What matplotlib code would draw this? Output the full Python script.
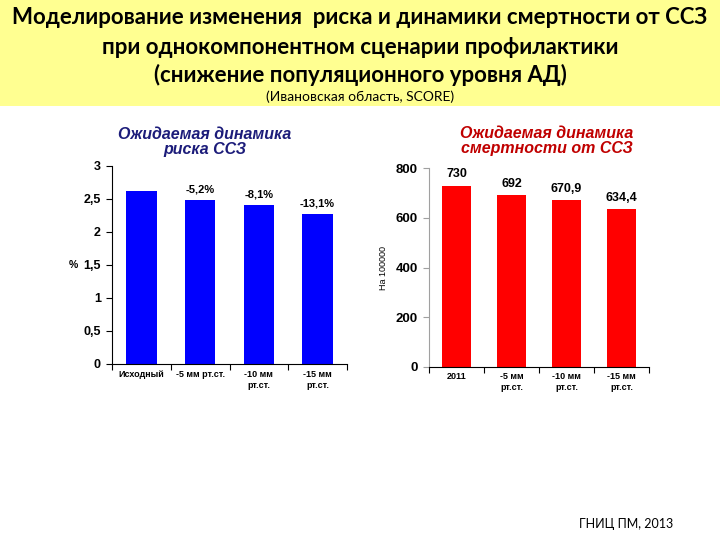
import matplotlib
matplotlib.use("Agg")
import matplotlib.pyplot as plt
import matplotlib.patches as mpatches
from matplotlib.ticker import FuncFormatter

risk_categories = ["Исходный", "-5 мм рт.ст.", "-10 мм\nрт.ст.", "-15 мм\nрт.ст."]
risk_values = [2.61, 2.48, 2.40, 2.27]
risk_labels = ["", "-5,2%", "-8,1%", "-13,1%"]
risk_ticks = [0, 0.5, 1, 1.5, 2, 2.5, 3]

mort_categories = ["2011", "-5 мм\nрт.ст.", "-10 мм\nрт.ст.", "-15 мм\nрт.ст."]
mort_values = [730, 692, 670.9, 634.4]
mort_labels = ["730", "692", "670,9", "634,4"]
mort_ticks = [0, 200, 400, 600, 800]

header_lines = ["Моделирование изменения  риска и динамики смертности от ССЗ",
                "при однокомпонентном сценарии профилактики",
                "(снижение популяционного уровня АД)"]
header_sub = "(Ивановская область, SCORE)"
footer = "ГНИЦ ПМ, 2013"

W, H = 720, 540
fig = plt.figure(figsize=(7.2, 5.4), dpi=100)
fig.patch.set_facecolor("white")

# yellow header band
fig.patches.append(mpatches.Rectangle((0, 1 - 106 / H), 1, 106 / H, transform=fig.transFigure,
                                      facecolor="#FFFF91", edgecolor="none", zorder=0))
hfont = "Lato"
ys = [18, 47, 75]
for t, y in zip(header_lines, ys):
    fig.text(0.5, 1 - y / H, t, ha="center", va="center", fontsize=16, fontweight="bold",
             family=hfont, color="black")
fig.text(0.5, 1 - 97 / H, header_sub, ha="center", va="center", fontsize=10, family=hfont, color="black")
fig.text(626 / W, 1 - 524 / H, footer, ha="center", va="center", fontsize=9, family=hfont, color="black")

tfont = ["Liberation Sans", "DejaVu Sans"]


def comma_fmt(v, pos):
    s = ("%g" % v).replace(".", ",")
    return s


def style_axes(ax, ycolor, ysize):
    ax.spines["top"].set_visible(False)
    ax.spines["right"].set_visible(False)
    ax.spines["left"].set_color(ycolor)
    ax.spines["left"].set_linewidth(0.8)
    ax.spines["bottom"].set_color("black")
    ax.spines["bottom"].set_linewidth(0.8)
    ax.tick_params(axis="y", direction="out", length=4, width=0.8, color=ycolor, pad=4)
    ax.tick_params(axis="x", which="major", length=0, pad=4)
    ax.tick_params(axis="x", which="minor", direction="out", length=4, width=0.8, color="black")
    for lab in ax.get_yticklabels():
        lab.set_fontfamily(tfont)
        lab.set_fontweight("bold")
        lab.set_fontsize(ysize)
    for lab in ax.get_xticklabels():
        lab.set_fontfamily(tfont)
        lab.set_fontweight("bold")
        lab.set_fontsize(6.5)
        lab.set_linespacing(1.3)


# left chart
ax1 = fig.add_axes([112 / W, 1 - 364 / H, (347 - 112) / W, (364 - 165.7) / H])
x1 = list(range(len(risk_categories)))
ax1.bar(x1, risk_values, width=0.52, color="#0000FF", edgecolor="none")
ax1.set_xlim(-0.5, len(risk_categories) - 0.5)
ax1.set_ylim(0, 3)
ax1.set_yticks(risk_ticks)
ax1.yaxis.set_major_formatter(FuncFormatter(comma_fmt))
ax1.set_xticks(x1)
ax1.set_xticklabels(risk_categories)
ax1.set_xticks([i - 0.5 for i in range(len(risk_categories) + 1)], minor=True)
style_axes(ax1, "black", 9)
for xi, v, lab in zip(x1, risk_values, risk_labels):
    if lab:
        ax1.annotate(lab, (xi, v), xytext=(0, 4), textcoords="offset points", ha="center", va="bottom",
                     fontsize=8, fontweight="bold", family=tfont)
fig.text(73 / W, 1 - 265 / H, "%", ha="center", va="center",
         fontsize=7.5, fontweight="bold", family=tfont)
fig.text(205 / W, 1 - 142 / H, "Ожидаемая динамика\nриска ССЗ", ha="center", va="center",
         fontsize=11.5, fontweight="bold", fontstyle="italic", family=tfont, color="#1C1C7A",
         linespacing=1.05)

# right chart
ax2 = fig.add_axes([429 / W, 1 - 366.7 / H, (649 - 429) / W, (366.7 - 168.3) / H])
x2 = list(range(len(mort_categories)))
ax2.bar(x2, mort_values, width=0.51, color="#FF0000", edgecolor="none")
ax2.set_xlim(-0.5, len(mort_categories) - 0.5)
ax2.set_ylim(0, 800)
ax2.set_yticks(mort_ticks)
ax2.set_xticks(x2)
ax2.set_xticklabels(mort_categories)
ax2.set_xticks([i - 0.5 for i in range(len(mort_categories) + 1)], minor=True)
style_axes(ax2, "#A0A0A0", 9.5)
for xi, v, lab in zip(x2, mort_values, mort_labels):
    ax2.annotate(lab, (xi, v), xytext=(0, 4), textcoords="offset points", ha="center", va="bottom",
                 fontsize=9, fontweight="bold", family=tfont)
fig.text(383 / W, 1 - 268 / H, "На 100000", rotation=90, ha="center", va="center",
         fontsize=6.5, family=tfont)
fig.text(547 / W, 1 - 141 / H, "Ожидаемая динамика\nсмертности от ССЗ", ha="center", va="center",
         fontsize=11.5, fontweight="bold", fontstyle="italic", family=tfont, color="#C00000",
         linespacing=1.05)

fig.savefig("out.png", dpi=100)
